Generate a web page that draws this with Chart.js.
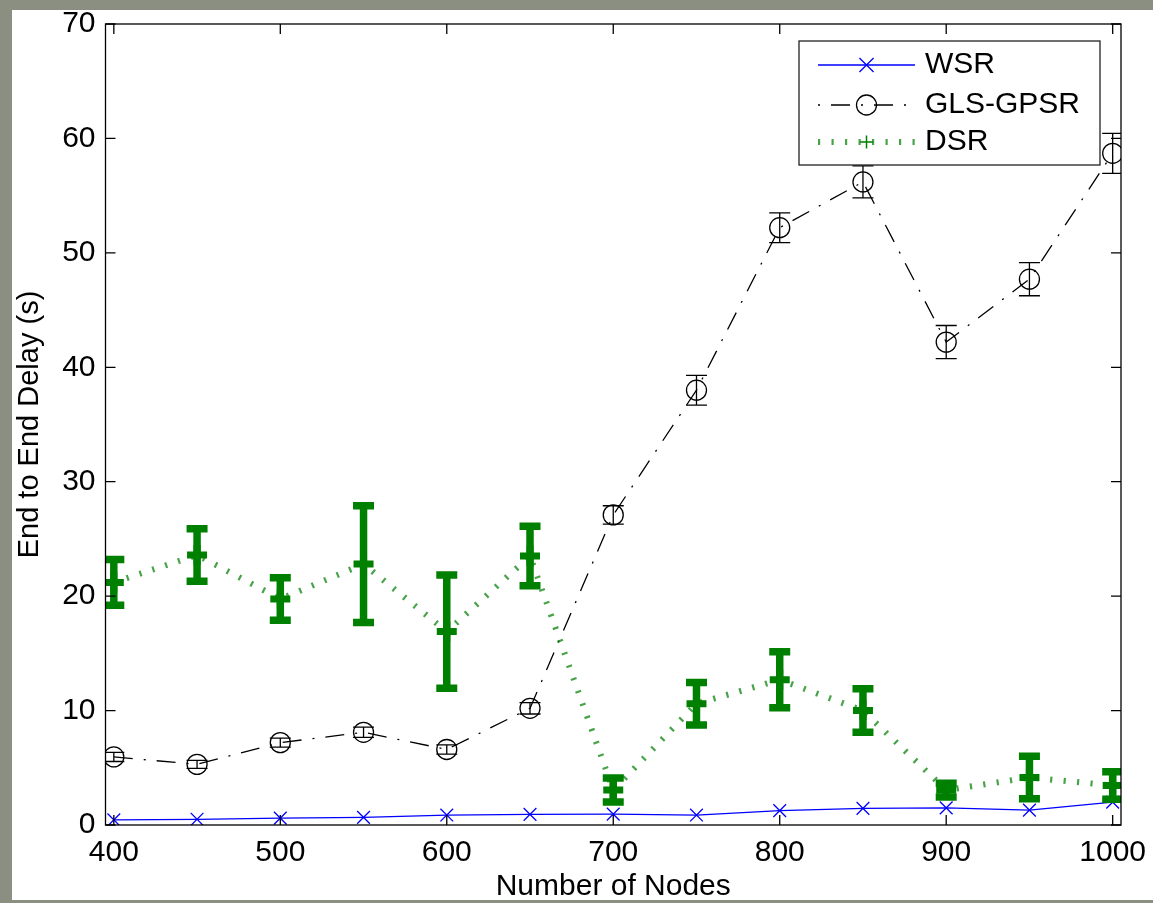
<!DOCTYPE html>
<html>
<head>
<meta charset="utf-8">
<title>End to End Delay vs Number of Nodes</title>
<script src="https://cdn.jsdelivr.net/npm/chart.js@4.4.1/dist/chart.umd.min.js"></script>
<style>
  html, body { margin: 0; padding: 0; }
  body { width: 1153px; height: 903px; background: #8b8f81; position: relative; overflow: hidden; }
  .sheet { position: absolute; left: 12px; top: 10px; width: 1141px; height: 890px; background: #fff; }
  .chart-box { position: absolute; left: 0; top: 0; width: 1153px; height: 903px; }
</style>
</head>
<body>
<div class="sheet"></div>
<div class="chart-box"><canvas id="delay-chart" aria-label="End to end delay against number of nodes"></canvas></div>
<script>
// values
const nodes = [400, 450, 500, 550, 600, 650, 700, 750, 800, 850, 900, 950, 1000];
const wsrDelay = [0.45, 0.5, 0.6, 0.67, 0.87, 0.93, 0.95, 0.87, 1.25, 1.45, 1.5, 1.3, 2.0];
const glsDelay = [5.95, 5.3, 7.2, 8.1, 6.6, 10.2, 27.1, 38.0, 52.2, 56.2, 42.2, 47.7, 58.7];
const glsError = [0.4, 0.35, 0.4, 0.45, 0.4, 0.5, 0.8, 1.3, 1.3, 1.4, 1.45, 1.45, 1.75];
const dsrDelay = [21.2, 23.6, 19.75, 22.8, 16.9, 23.5, 3.05, 10.6, 12.7, 10.0, 3.05, 4.15, 3.45];
const dsrError = [2.0, 2.3, 1.85, 5.1, 4.95, 2.6, 1.05, 1.85, 2.45, 1.9, 0.6, 1.85, 1.2];
const xTicks = [400, 500, 600, 700, 800, 900, 1000];
const yTicks = [0, 10, 20, 30, 40, 50, 60, 70];

const FONT = '"Liberation Sans", Arial, Helvetica, sans-serif';
const points = (values) => nodes.map((n, i) => ({ x: n, y: values[i] }));

// matlab style box with ticks pointing inward on all four sides
const axesBox = {
  id: 'axesBox',
  afterDraw(chart) {
    const { ctx, chartArea: a, scales: { x, y } } = chart;
    ctx.save();
    ctx.strokeStyle = '#000';
    ctx.lineWidth = 1.3;
    ctx.strokeRect(a.left, a.top, a.right - a.left, a.bottom - a.top);
    ctx.beginPath();
    x.ticks.forEach((t) => {
      const px = x.getPixelForValue(t.value);
      ctx.moveTo(px, a.bottom); ctx.lineTo(px, a.bottom - 10);
      ctx.moveTo(px, a.top); ctx.lineTo(px, a.top + 10);
    });
    y.ticks.forEach((t) => {
      const py = y.getPixelForValue(t.value);
      ctx.moveTo(a.left, py); ctx.lineTo(a.left + 10, py);
      ctx.moveTo(a.right, py); ctx.lineTo(a.right - 10, py);
    });
    ctx.stroke();
    ctx.restore();
  }
};

const errorBars = {
  id: 'errorBars',
  afterDatasetsDraw(chart, args, opts) {
    const { ctx, chartArea: a, scales: { x, y } } = chart;
    ctx.save();
    ctx.beginPath();
    ctx.rect(a.left, a.top, a.right - a.left, a.bottom - a.top);
    ctx.clip();
    opts.sets.forEach((set) => {
      ctx.strokeStyle = set.color;
      ctx.lineWidth = set.width;
      ctx.beginPath();
      nodes.forEach((n, i) => {
        const px = x.getPixelForValue(n);
        const hi = y.getPixelForValue(set.values[i] + set.errors[i]);
        const lo = y.getPixelForValue(set.values[i] - set.errors[i]);
        ctx.moveTo(px, hi); ctx.lineTo(px, lo);
        ctx.moveTo(px - set.cap, hi); ctx.lineTo(px + set.cap, hi);
        ctx.moveTo(px - set.cap, lo); ctx.lineTo(px + set.cap, lo);
      });
      ctx.stroke();
    });
    ctx.restore();
  }
};

const boxLegend = {
  id: 'boxLegend',
  afterDraw(chart, args, opts) {
    const { ctx } = chart;
    ctx.save();
    ctx.fillStyle = '#fff';
    ctx.fillRect(opts.left, opts.top, opts.width, opts.height);
    ctx.strokeStyle = '#222';
    ctx.lineWidth = 1.3;
    ctx.strokeRect(opts.left, opts.top, opts.width, opts.height);
    chart.data.datasets.forEach((ds, i) => {
      const yy = opts.rows[i];
      ctx.strokeStyle = ds.borderColor;
      ctx.lineWidth = ds.borderWidth;
      ctx.setLineDash(ds.borderDash || []);
      ctx.lineDashOffset = ds.legendDashOffset || 0;
      ctx.beginPath();
      ctx.moveTo(opts.x0, yy);
      ctx.lineTo(opts.x1, yy);
      ctx.stroke();
      ctx.setLineDash([]);
      ctx.strokeStyle = ds.pointBorderColor;
      ctx.fillStyle = 'rgba(0,0,0,0)';
      ctx.lineWidth = ds.legendPointWidth;
      Chart.helpers.drawPoint(ctx, { pointStyle: ds.pointStyle, radius: ds.legendPointRadius, borderWidth: ds.legendPointWidth, rotation: 0 }, (opts.x0 + opts.x1) / 2, yy);
      ctx.fillStyle = '#000';
      ctx.font = '30px ' + FONT;
      ctx.textBaseline = 'middle';
      ctx.fillText(ds.label, opts.textX, yy);
    });
    ctx.restore();
  }
};

const tickFont = { family: FONT, size: 30 };

new Chart(document.getElementById('delay-chart'), {
  type: 'line',
  data: {
    datasets: [
      { label: 'WSR', data: points(wsrDelay), borderColor: '#0000ff', borderWidth: 1.3, pointStyle: 'crossRot', pointRadius: 9, pointBorderColor: '#0000ff', pointBorderWidth: 1.3, legendPointRadius: 10, legendPointWidth: 1.3, order: 3 },
      { label: 'GLS-GPSR', data: points(glsDelay), borderColor: '#000', borderWidth: 1.3, borderDash: [19, 11, 2, 11], legendDashOffset: 30, pointStyle: 'circle', pointRadius: 10, pointBackgroundColor: 'rgba(0,0,0,0)', pointBorderColor: '#000', pointBorderWidth: 1.3, legendPointRadius: 10, legendPointWidth: 1.3, order: 2 },
      { label: 'DSR', data: points(dsrDelay), borderColor: 'rgba(0,128,0,0.72)', borderWidth: 6, borderDash: [2.2, 11.3], pointStyle: 'cross', pointRadius: 10, pointBorderColor: '#008000', pointBorderWidth: 7, legendPointRadius: 6.5, legendPointWidth: 1.5, order: 1 }
    ]
  },
  plugins: [axesBox, errorBars, boxLegend],
  options: {
    responsive: true,
    maintainAspectRatio: false,
    animation: false,
    devicePixelRatio: 1,
    events: [],
    layout: { padding: { left: 12, top: 24, right: 32, bottom: 0 } },
    elements: { line: { tension: 0, borderCapStyle: 'butt' } },
    plugins: {
      legend: { display: false },
      tooltip: { enabled: false },
      errorBars: {
        sets: [
          { values: glsDelay, errors: glsError, color: '#000', width: 1.3, cap: 10.5 },
          { values: dsrDelay, errors: dsrError, color: '#008000', width: 7.5, cap: 10.5 }
        ]
      },
      boxLegend: { left: 799, top: 41, width: 301, height: 124, rows: [65, 105, 142], x0: 818, x1: 915, textX: 925 }
    },
    scales: {
      x: {
        type: 'linear', min: 395, max: 1005,
        afterBuildTicks: (s) => { s.ticks = xTicks.map((v) => ({ value: v })); },
        afterFit: (s) => { s.height = 78; s.paddingLeft = 0; s.paddingRight = 0; },
        grid: { display: false, drawTicks: false },
        border: { display: false },
        ticks: { padding: 10, color: '#000', font: tickFont, maxRotation: 0, autoSkip: false, callback: (v) => String(v) },
        title: { display: true, text: 'Number of Nodes', color: '#000', font: { family: FONT, size: 30, lineHeight: 1 }, padding: { top: 0, bottom: 1.5 } }
      },
      y: {
        type: 'linear', min: 0, max: 70,
        afterBuildTicks: (s) => { s.ticks = yTicks.map((v) => ({ value: v })); },
        afterFit: (s) => { s.width = 93.5; s.paddingTop = 0; s.paddingBottom = 0; },
        grid: { display: false, drawTicks: false },
        border: { display: false },
        ticks: { padding: 10, color: '#000', font: tickFont, callback: (v) => String(v) },
        title: { display: true, text: 'End to End Delay (s)', color: '#000', font: { family: FONT, size: 29, lineHeight: 1 }, padding: { top: 3.5, bottom: 0 } }
      }
    }
  }
});
</script>
</body>
</html>
